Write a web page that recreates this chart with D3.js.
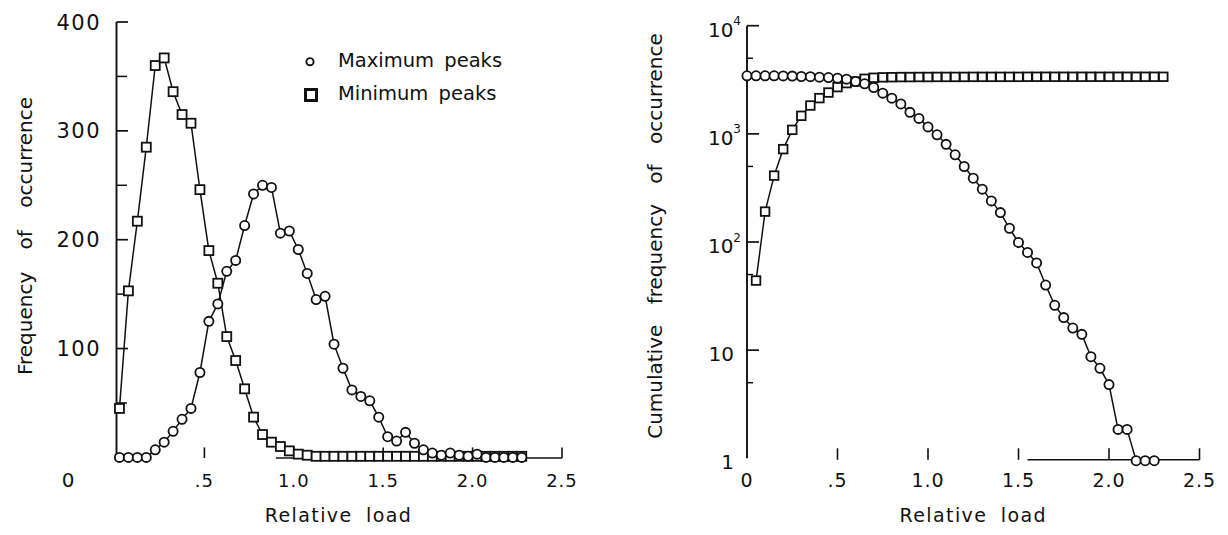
<!DOCTYPE html>
<html>
<head>
<meta charset="utf-8">
<script src="https://cdn.jsdelivr.net/npm/d3@7"></script>
<style>
  html, body { margin: 0; padding: 0; background: #fff; }
  svg { display: block; }
  text { font-family: "DejaVu Sans", sans-serif; fill: #111; }
</style>
</head>
<body>
<svg id="chart" width="1228" height="535"></svg>
<script>
// ---------------- DATA ----------------
// Left panel: frequency per relative-load bin (bin centres)
const binCentres = [0.025,0.075,0.125,0.175,0.225,0.275,0.325,0.375,0.425,0.475,
  0.525,0.575,0.625,0.675,0.725,0.775,0.825,0.875,0.925,0.975,
  1.025,1.075,1.125,1.175,1.225,1.275,1.325,1.375,1.425,1.475,
  1.525,1.575,1.625,1.675,1.725,1.775,1.825,1.875,1.925,1.975,
  2.025,2.075,2.125,2.175,2.225,2.275];
const maxPeaksFreq = [0,0,0,0,7,14,24,35,45,78,
  125,141,171,181,213,242,250,248,206,208,
  191,169,145,148,104,82,62,56,52,37,
  19,15,23,13,7,4,2,4,2,1,
  3,0,0,0,0,0];
const minPeaksFreq = [45,153,217,285,360,367,336,315,307,246,
  190,160,111,89,63,37,21,14,10,6,
  3,2,1,1,1,1,1,1,1,1,
  1,1,1,1,1,1,1,1,1,1,
  1,1,1,1,1,1];

// Right panel: cumulative frequency
const cumLoadsMax = [0.00,0.05,0.10,0.15,0.20,0.25,0.30,0.35,0.40,0.45,
  0.50,0.55,0.60,0.65,0.70,0.75,0.80,0.85,0.90,0.95,
  1.00,1.05,1.10,1.15,1.20,1.25,1.30,1.35,1.40,1.45,
  1.50,1.55,1.60,1.65,1.70,1.75,1.80,1.85,1.90,1.95,
  2.00,2.05,2.10,2.15,2.20,2.25];
const cumMaxPeaks = [3440,3440,3440,3440,3435,3420,3390,3380,3345,3318,
  3273,3205,3048,2904,2682,2378,2138,1890,1580,1390,
  1160,980,800,640,499,389,308,240,187,134,
  99,80,64,40,26,20,16,14,8.7,6.8,
  4.8,1.85,1.85,0.95,0.95,0.95];
const cumLoadsMin = [0.05,0.10,0.15,0.20,0.25,0.30,0.35,0.40,0.45,0.50,
  0.55,0.60,0.65,0.70,0.75,0.80,0.85,0.90,0.95,1.00,
  1.05,1.10,1.15,1.20,1.25,1.30,1.35,1.40,1.45,1.50,
  1.55,1.60,1.65,1.70,1.75,1.80,1.85,1.90,1.95,2.00,
  2.05,2.10,2.15,2.20,2.25,2.30];
const cumMinPeaks = [44,191,411,722,1089,1468,1828,2140,2410,2705,
  2946,3048,3229,3300,3330,3340,3350,3350,3355,3355,
  3360,3360,3360,3360,3365,3365,3365,3365,3365,3365,
  3370,3370,3370,3370,3370,3370,3370,3370,3370,3370,
  3370,3370,3370,3370,3370,3370];

// Ticks / labels
const xTickValues = [0.5,1.0,1.5,2.0,2.5];
const xTickLabels = [".5","1.0","1.5","2.0","2.5"];
const leftYMajor = [100,200,300,400];
const leftYMinor = [50,150,250,350];
const rightYMajor = [10,100,1000,10000];
const rightYMinor = [5,50,500,5000];
const rightYLabels = [{v:1,base:"1",sup:""},{v:10,base:"10",sup:""},{v:100,base:"10",sup:"2"},{v:1000,base:"10",sup:"3"},{v:10000,base:"10",sup:"4"}];
const legendItems = ["Maximum peaks","Minimum peaks"];
const xTitle = "Relative load";
const leftYTitle = "Frequency of occurrence";
const rightYTitle = "Cumulative frequency of occurrence";

// ---------------- DRAW ----------------
const svg = d3.select("#chart");
const ink = "#111";

function zip(xs, ys){ return xs.map((x,i)=>({x:x, y:ys[i]})); }

function circles(g, data, x, y, r){
  g.selectAll(null).data(data).enter().append("circle")
    .attr("cx", d=>x(d.x)).attr("cy", d=>y(d.y)).attr("r", r)
    .attr("fill","#fff").attr("stroke",ink).attr("stroke-width",1.8);
}
function squares(g, data, x, y, s){
  g.selectAll(null).data(data).enter().append("rect")
    .attr("x", d=>x(d.x)-s/2).attr("y", d=>y(d.y)-s/2).attr("width", s).attr("height", s)
    .attr("fill","#fff").attr("stroke",ink).attr("stroke-width",1.8);
}
function line(g, data, x, y){
  g.append("path").datum(data)
    .attr("d", d3.line().x(d=>x(d.x)).y(d=>y(d.y)))
    .attr("fill","none").attr("stroke",ink).attr("stroke-width",1.5);
}

// ===== LEFT PANEL =====
const xL = d3.scaleLinear().domain([0,2.5]).range([115,562]);
const yL = d3.scaleLinear().domain([0,400]).range([457.4,22]);
const gL = svg.append("g");

// y axis
gL.append("line").attr("x1",xL(0)+1.5).attr("x2",xL(0)+1.5).attr("y1",yL(400)).attr("y2",yL(0))
  .attr("stroke",ink).attr("stroke-width",1.9);
gL.selectAll(null).data(leftYMajor).enter().append("line")
  .attr("x1",xL(0)+1.5).attr("x2",xL(0)+13).attr("y1",d=>yL(d)).attr("y2",d=>yL(d))
  .attr("stroke",ink).attr("stroke-width",1.7);
gL.selectAll(null).data(leftYMinor).enter().append("line")
  .attr("x1",xL(0)+1.5).attr("x2",xL(0)+12).attr("y1",d=>yL(d)).attr("y2",d=>yL(d))
  .attr("stroke",ink).attr("stroke-width",1.5);
gL.selectAll(null).data(leftYMajor).enter().append("text")
  .attr("x",101).attr("y",d=>yL(d)).attr("dy","0.36em").attr("text-anchor","end")
  .attr("font-size",21).attr("letter-spacing",1.5).text(d=>d);

// x axis (partial baseline + ticks)
gL.append("line").attr("x1",xL(0.9)).attr("x2",xL(2.5)).attr("y1",yL(0)+0.6).attr("y2",yL(0)+0.6)
  .attr("stroke",ink).attr("stroke-width",1.4);
gL.selectAll(null).data(xTickValues).enter().append("line")
  .attr("x1",d=>xL(d)).attr("x2",d=>xL(d)).attr("y1",yL(0)+0.6).attr("y2",yL(0)-10)
  .attr("stroke",ink).attr("stroke-width",1.6);
gL.selectAll(null).data(xTickValues).enter().append("text")
  .attr("x",d=>xL(d)).attr("y",487).attr("text-anchor","middle")
  .attr("font-size",18).attr("letter-spacing",1).text((d,i)=>xTickLabels[i]);
gL.append("text").attr("x",68).attr("y",487).attr("text-anchor","middle")
  .attr("font-size",20).text("0");

// titles
gL.append("text").attr("x",(xL(0)+xL(2.5))/2).attr("y",522).attr("text-anchor","middle")
  .attr("font-size",19).attr("letter-spacing",1.4).attr("word-spacing",6).text(xTitle);
gL.append("text").attr("transform","translate(32,236) rotate(-90)").attr("text-anchor","middle")
  .attr("font-size",20).attr("word-spacing",16).text(leftYTitle);

// data
const minL = zip(binCentres, minPeaksFreq), maxL = zip(binCentres, maxPeaksFreq);
line(gL, minL, xL, yL); line(gL, maxL, xL, yL);
squares(gL, minL, xL, yL, 9);
circles(gL, maxL, xL, yL, 4.6);

// legend
const lg = gL.append("g");
lg.append("circle").attr("cx",310).attr("cy",61.7).attr("r",3.6)
  .attr("fill","#fff").attr("stroke",ink).attr("stroke-width",1.9);
lg.append("rect").attr("x",305.5).attr("y",89.5).attr("width",11).attr("height",11)
  .attr("fill","#fff").attr("stroke",ink).attr("stroke-width",3);
lg.selectAll(null).data(legendItems).enter().append("text")
  .attr("x",338).attr("y",(d,i)=>67+i*33).attr("font-size",19.5).attr("word-spacing",4).text(d=>d);

// ===== RIGHT PANEL =====
const xR = d3.scaleLinear().domain([0,2.5]).range([747,1199.5]);
const yR = d3.scaleLog().domain([1,10000]).range([458.3,25.7]);
const gR = svg.append("g");

gR.append("line").attr("x1",xR(0)).attr("x2",xR(0)).attr("y1",yR(10000)).attr("y2",yR(1))
  .attr("stroke",ink).attr("stroke-width",1.9);
gR.selectAll(null).data(rightYMajor).enter().append("line")
  .attr("x1",xR(0)).attr("x2",xR(0)+12).attr("y1",d=>yR(d)).attr("y2",d=>yR(d))
  .attr("stroke",ink).attr("stroke-width",1.7);
gR.selectAll(null).data(rightYMinor).enter().append("line")
  .attr("x1",xR(0)).attr("x2",xR(0)+6).attr("y1",d=>yR(d)).attr("y2",d=>yR(d))
  .attr("stroke",ink).attr("stroke-width",1.5);
const yl = gR.selectAll(null).data(rightYLabels).enter().append("text")
  .attr("x",d=> d.sup ? xR(0)-6 : xR(0)-13)
  .attr("y",d=>yR(d.v)).attr("dy","0.55em").attr("text-anchor","end").attr("font-size",20);
yl.append("tspan").text(d=>d.base);
yl.filter(d=>d.sup).append("tspan").attr("font-size",12).attr("dy","-0.95em").text(d=>d.sup);

// x axis
gR.append("line").attr("x1",xR(1.55)).attr("x2",xR(2.5)).attr("y1",yR(1)+1.5).attr("y2",yR(1)+1.5)
  .attr("stroke",ink).attr("stroke-width",1.4);
gR.selectAll(null).data(xTickValues).enter().append("line")
  .attr("x1",d=>xR(d)).attr("x2",d=>xR(d)).attr("y1",yR(1)+1.5).attr("y2",yR(1)-10)
  .attr("stroke",ink).attr("stroke-width",1.6);
gR.selectAll(null).data([0].concat(xTickValues)).enter().append("text")
  .attr("x",d=>xR(d)).attr("y",487).attr("text-anchor","middle")
  .attr("font-size",19).attr("letter-spacing",1).text((d,i)=> i===0 ? "0" : xTickLabels[i-1]);

gR.append("text").attr("x",(xR(0)+xR(2.5))/2).attr("y",522).attr("text-anchor","middle")
  .attr("font-size",19).attr("letter-spacing",1.4).attr("word-spacing",6).text(xTitle);
gR.append("text").attr("transform","translate(662,236) rotate(-90)").attr("text-anchor","middle")
  .attr("font-size",20).attr("word-spacing",14).text(rightYTitle);

const maxR = zip(cumLoadsMax, cumMaxPeaks), minR = zip(cumLoadsMin, cumMinPeaks);
line(gR, minR, xR, yR); line(gR, maxR, xR, yR);
squares(gR, minR, xR, yR, 8.6);
circles(gR, maxR, xR, yR, 4.6);
</script>
</body>
</html>
